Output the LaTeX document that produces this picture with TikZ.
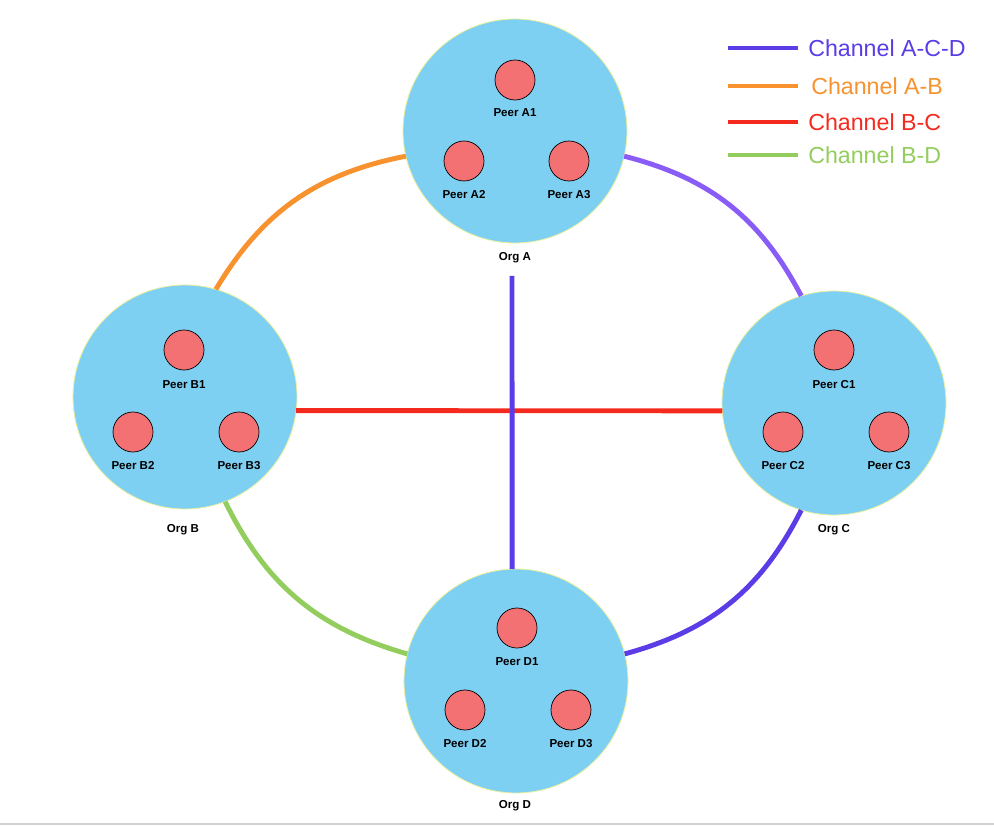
\documentclass[tikz,border=0pt]{standalone}
\usepackage{fontspec}
\setmainfont{Liberation Sans}
\definecolor{orgblue}{HTML}{7ED0F3}
\definecolor{orgrim}{HTML}{EEF0A0}
\definecolor{peerred}{HTML}{F37073}
\definecolor{chacd}{HTML}{5B3CE6}
\definecolor{chac}{HTML}{8A5CF6}
\definecolor{chab}{HTML}{F7922E}
\definecolor{chbc}{HTML}{F52A1E}
\definecolor{chbd}{HTML}{93CD5E}
\tikzset{
  org/.style={circle, fill=orgblue, draw=orgrim, line width=0.6pt, minimum size=5.6cm, inner sep=0pt, outer sep=0pt},
  peer/.style={circle, fill=peerred, draw=black, line width=0.5pt, minimum size=1cm, inner sep=0pt},
  tag/.style={font=\bfseries\fontsize{8.2}{9}\selectfont, inner sep=0pt},
  keytext/.style={anchor=west, inner sep=0pt, font=\fontsize{16.5}{18}\selectfont},
  chan/.style={line width=3.5pt},
}
\begin{document}
\begin{tikzpicture}[x=0.025cm, y=-0.025cm]
        \useasboundingbox (0,0) rectangle (994,826);
        \draw[black!18, line width=1.4pt] (0,824) -- (994,824);

        % organisations
        \node[org] (orgA) at (515,131) {};
        \node[org] (orgB) at (185,397) {};
        \node[org] (orgC) at (834,403) {};
        \node[org] (orgD) at (516,681) {};
        \node[tag] (labA) at (515,258) {Org A};
        \node[tag] (labB) at (183,530) {Org B};
        \node[tag] (labC) at (834,530) {Org C};
        \node[tag] (labD) at (515,806) {Org D};

        % channels
        \coordinate (acdTop) at (512,276);
        \draw[chan, chab] (orgA.193) to[bend right=24] (orgB.74);
        \draw[chan, chac] (orgA.347) to[bend left=24] (orgC.107);
        \draw[chan, chacd] (orgC.253) to[bend left=24] (orgD.14);
        \draw[chan, chbd] (orgB.291) to[bend right=24] (orgD.166);
        \draw[chan, chbc] (orgB.-7) -- (orgC.184);
        \draw[chan, chacd] (acdTop) -- (orgD.92);

        % peers
        \node[peer] (pA1) at (515,80) {};
        \node[peer] (pA2) at (464,161) {};
        \node[peer] (pA3) at (569,161) {};
        \node[tag] (tA1) at (515,113) {Peer A1};
        \node[tag] (tA2) at (464,195) {Peer A2};
        \node[tag] (tA3) at (569,195) {Peer A3};

        \node[peer] (pB1) at (184,350) {};
        \node[peer] (pB2) at (133,432) {};
        \node[peer] (pB3) at (239,432) {};
        \node[tag] (tB1) at (184,385) {Peer B1};
        \node[tag] (tB2) at (133,466) {Peer B2};
        \node[tag] (tB3) at (239,466) {Peer B3};

        \node[peer] (pC1) at (834,350) {};
        \node[peer] (pC2) at (783,432) {};
        \node[peer] (pC3) at (889,432) {};
        \node[tag] (tC1) at (834,385) {Peer C1};
        \node[tag] (tC2) at (783,466) {Peer C2};
        \node[tag] (tC3) at (889,466) {Peer C3};

        \node[peer] (pD1) at (517,628) {};
        \node[peer] (pD2) at (465,710) {};
        \node[peer] (pD3) at (571,710) {};
        \node[tag] (tD1) at (517,662) {Peer D1};
        \node[tag] (tD2) at (465,744) {Peer D2};
        \node[tag] (tD3) at (571,744) {Peer D3};

        % legend
        \node[keytext, text=chacd] (k1) at (808,48) {Channel A-C-D};
        \node[keytext, text=chab] (k2) at (811,86) {Channel A-B};
        \node[keytext, text=chbc] (k3) at (808,122) {Channel B-C};
        \node[keytext, text=chbd] (k4) at (808,155) {Channel B-D};
        \coordinate (s1) at (728,48);
        \coordinate (s2) at (728,86);
        \coordinate (s3) at (728,122);
        \coordinate (s4) at (728,155);
        \draw[chan, chacd] (s1) -- ++(70,0);
        \draw[chan, chab] (s2) -- ++(70,0);
        \draw[chan, chbc] (s3) -- ++(70,0);
        \draw[chan, chbd] (s4) -- ++(70,0);
      \end{tikzpicture}
\end{document}
